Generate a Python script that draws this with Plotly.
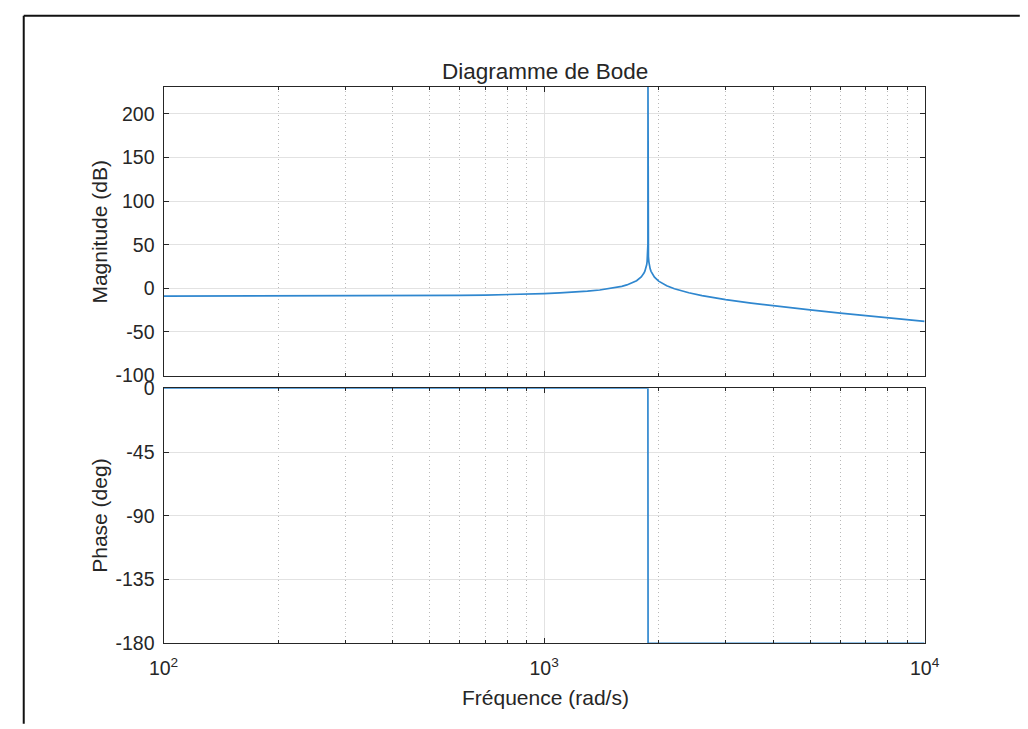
import plotly.graph_objects as go

# Frequency response samples (rad/s) and magnitude (dB)
freq_mag = [100, 150, 200, 300, 400, 500, 600, 700, 800, 900, 1000, 1100, 1200,
            1300, 1400, 1500, 1550, 1600, 1650, 1700, 1750, 1800, 1810, 1830,
            1840, 1850, 1860, 1865, 1870, 1872, 1874, 1875, 1876, 1878, 1880,
            1885, 1890, 1900, 1910, 1920, 1940, 1950, 2000, 2050, 2100, 2200,
            2300, 2400, 2600, 2800, 3000, 3500, 4000, 4500, 5000, 6000, 7000,
            8000, 9000, 10000]
mag_db = [-9.0, -8.9, -8.9, -8.8, -8.6, -8.4, -8.1, -7.7, -7.3, -6.7, -6.1, -5.3, -4.4,
          -3.3, -1.9, -0.1, 1.0, 2.3, 3.9, 6.0, 8.8, 13.1, 14.3, 17.5,
          19.6, 22.5, 27.0, 30.5, 36.5, 40.9, 50.4, 231.0, 50.4, 40.9, 36.4,
          30.4, 26.9, 22.4, 19.5, 17.3, 14.0, 12.8, 8.2, 5.2, 2.9, -0.5,
          -3.1, -5.1, -8.3, -10.8, -12.9, -16.9, -20.0, -22.6, -24.7, -28.3, -31.2,
          -33.7, -35.9, -37.8]

# Phase (deg)
freq_phase = [100, 1874, 1876, 10000]
phase_deg = [0, 0, -180, -180]

# Axis ticks
x_major = [100, 1000, 10000]
x_major_text = ["10<sup>2</sup>", "10<sup>3</sup>", "10<sup>4</sup>"]
x_minor = [200, 300, 400, 500, 600, 700, 800, 900,
           2000, 3000, 4000, 5000, 6000, 7000, 8000, 9000]
mag_ticks = [-100, -50, 0, 50, 100, 150, 200]
mag_tick_text = ["-100", "-50", "0", "50", "100", "150", "200"]
phase_ticks = [-180, -135, -90, -45, 0]
phase_tick_text = ["-180", "-135", "-90", "-45", "0"]

W, H = 1028, 729
LINE = "#2f87cf"
TXT = "#262626"
FONT = "Liberation Sans, Arial, sans-serif"


def px_x(p):
    return p / W


def px_y(p):
    return 1 - p / H


fig = go.Figure()
fig.add_trace(go.Scatter(x=freq_mag, y=mag_db, mode="lines",
                         line=dict(color=LINE, width=1.7),
                         xaxis="x", yaxis="y", showlegend=False))
fig.add_trace(go.Scatter(x=freq_phase, y=phase_deg, mode="lines",
                         line=dict(color=LINE, width=1.7),
                         xaxis="x2", yaxis="y2", showlegend=False))

xcommon = dict(
    type="log", range=[2, 4], domain=[px_x(153), px_x(937)],
    tickvals=x_major, ticktext=x_major_text,
    ticks="inside", ticklen=5, tickcolor=TXT, tickwidth=1,
    showline=True, linecolor=TXT, linewidth=1.2, mirror="ticks",
    showgrid=True, gridcolor="#e2e2e2", gridwidth=1,
    zeroline=False, ticklabelstandoff=7,
    tickfont=dict(family=FONT, size=19.5, color=TXT),
    minor=dict(tickvals=x_minor, ticks="inside", ticklen=3, tickcolor=TXT,
               showgrid=True, gridcolor="#b8b8b8", griddash="1px,3px", gridwidth=1),
)
ycommon = dict(
    ticks="inside", ticklen=5, tickcolor=TXT, tickwidth=1,
    showline=True, linecolor=TXT, linewidth=1.2, mirror="ticks",
    showgrid=True, gridcolor="#e2e2e2", gridwidth=1,
    zeroline=False, ticklabelstandoff=4,
    tickfont=dict(family=FONT, size=19.5, color=TXT),
)

fig.update_layout(
    width=W, height=H,
    margin=dict(l=0, r=0, t=0, b=0),
    paper_bgcolor="white", plot_bgcolor="white",
    xaxis=dict(xcommon, anchor="y", showticklabels=False, matches="x2"),
    xaxis2=dict(xcommon, anchor="y2"),
    yaxis=dict(ycommon, domain=[px_y(376), px_y(78)], range=[-100, 231],
               tickvals=mag_ticks, ticktext=mag_tick_text, anchor="x"),
    yaxis2=dict(ycommon, domain=[px_y(652), px_y(389)], range=[-180, 0],
                tickvals=phase_ticks, ticktext=phase_tick_text, anchor="x2"),
    annotations=[
        dict(text="Diagramme de Bode", x=px_x(546), y=px_y(62), xref="paper", yref="paper",
             showarrow=False, font=dict(family=FONT, size=22.5, color=TXT),
             xanchor="center", yanchor="middle"),
        dict(text="Magnitude (dB)", x=px_x(87), y=px_y(227), xref="paper", yref="paper",
             showarrow=False, textangle=-90, font=dict(family=FONT, size=21, color=TXT),
             xanchor="center", yanchor="middle"),
        dict(text="Phase (deg)", x=px_x(87), y=px_y(520), xref="paper", yref="paper",
             showarrow=False, textangle=-90, font=dict(family=FONT, size=21, color=TXT),
             xanchor="center", yanchor="middle"),
        dict(text="Fréquence (rad/s)", x=px_x(546), y=px_y(708), xref="paper", yref="paper",
             showarrow=False, font=dict(family=FONT, size=21, color=TXT),
             xanchor="center", yanchor="middle"),
    ],
    shapes=[
        dict(type="line", xref="paper", yref="paper",
             x0=px_x(9), x1=px_x(9), y0=px_y(5), y1=px_y(735),
             line=dict(color="#111111", width=2)),
        dict(type="line", xref="paper", yref="paper",
             x0=px_x(9), x1=px_x(1035), y0=px_y(5), y1=px_y(5),
             line=dict(color="#111111", width=2)),
    ],
)

fig.write_html("out.html")
